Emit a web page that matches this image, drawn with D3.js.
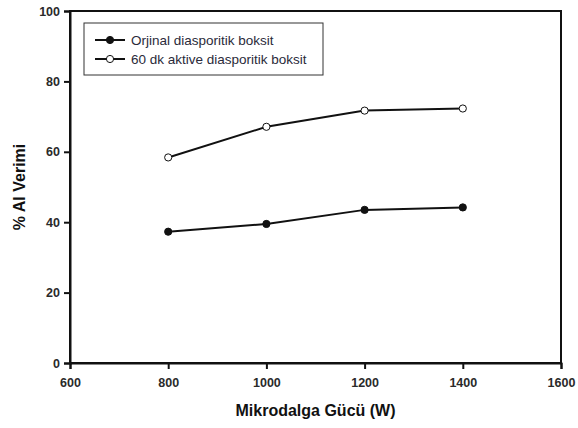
<!DOCTYPE html>
<html>
<head>
<meta charset="utf-8">
<script src="https://cdn.jsdelivr.net/npm/d3@7"></script>
<style>
  body { margin: 0; background: #fff; }
  svg text { font-family: "Liberation Sans", Arial, sans-serif; }
</style>
</head>
<body>
<div class="canvas"></div>
<script>
const power = [800, 1000, 1200, 1400]
const original = [37.3, 39.5, 43.5, 44.2]
const activated = [58.4, 67.1, 71.7, 72.3]
const xTicks = [600, 800, 1000, 1200, 1400, 1600]
const yTicks = [0, 20, 40, 60, 80, 100]
const seriesNames = ["Orjinal diasporitik boksit", "60 dk aktive diasporitik boksit"]

const width = 578, height = 428
const margin = {top: 11, right: 17, bottom: 65, left: 70}
const graphWidth = width - margin.left - margin.right
const graphHeight = height - margin.top - margin.bottom

const svg = d3.select(".canvas").append("svg").attr("width", width).attr("height", height)
const graph = svg.append("g").attr("transform", `translate(${margin.left}, ${margin.top})`)

const x = d3.scaleLinear().domain([600, 1600]).range([0, graphWidth])
const y = d3.scaleLinear().domain([0, 100]).range([graphHeight, 0])

// frame
graph.append("rect")
  .attr("width", graphWidth).attr("height", graphHeight)
  .attr("fill", "none").attr("stroke", "#111").attr("stroke-width", 2)

const xAxis = d3.axisBottom(x).tickValues(xTicks).tickFormat(d3.format("d")).tickSize(6).tickPadding(9)
const yAxis = d3.axisLeft(y).tickValues(yTicks).tickFormat(d3.format("d")).tickSize(6).tickPadding(4)

const xg = graph.append("g").attr("transform", `translate(0, ${graphHeight})`).call(xAxis)
const yg = graph.append("g").call(yAxis)
;[xg, yg].forEach(g => {
  g.select(".domain").attr("stroke", "#111").attr("stroke-width", 2)
  g.selectAll(".tick line").attr("stroke", "#111").attr("stroke-width", 2)
  g.selectAll(".tick text").attr("fill", "#2a2a2a").style("font-size", "12.5px").style("font-weight", "bold")
})

const line = d3.line().x((d, i) => x(power[i])).y(d => y(d))

const series = [
  {name: seriesNames[0], values: original, fill: "#111"},
  {name: seriesNames[1], values: activated, fill: "#fff"}
]

series.forEach(s => {
  graph.append("path").datum(s.values)
    .attr("d", line).attr("fill", "none").attr("stroke", "#111").attr("stroke-width", 2)
  graph.selectAll(null).data(s.values).enter().append("circle")
    .attr("cx", (d, i) => x(power[i])).attr("cy", d => y(d)).attr("r", 3.6)
    .attr("fill", s.fill).attr("stroke", "#111").attr("stroke-width", 1)
})

// legend
const legend = svg.append("g").attr("transform", "translate(84, 23)")
legend.append("rect").attr("width", 239).attr("height", 52)
  .attr("fill", "#fff").attr("stroke", "#333").attr("stroke-width", 1)
series.forEach((s, i) => {
  const row = legend.append("g").attr("transform", `translate(0, ${17 + i * 19})`)
  row.append("line").attr("x1", 11).attr("x2", 41).attr("stroke", "#111").attr("stroke-width", 2)
  row.append("circle").attr("cx", 26).attr("r", 3.6).attr("fill", s.fill).attr("stroke", "#111")
  row.append("text").attr("x", 47).attr("dy", "0.35em").attr("fill", "#2a2a3a")
    .style("font-size", "13.5px").text(s.name)
})

// axis titles
svg.append("text").attr("x", margin.left + graphWidth / 2).attr("y", 416)
  .attr("text-anchor", "middle").style("font-size", "16px").style("font-weight", "bold")
  .attr("fill", "#111").text("Mikrodalga Gücü (W)")
svg.append("text").attr("transform", "translate(25, 187) rotate(-90)")
  .attr("text-anchor", "middle").style("font-size", "16px").style("font-weight", "bold")
  .attr("fill", "#111").text("% Al Verimi")
</script>
</body>
</html>
